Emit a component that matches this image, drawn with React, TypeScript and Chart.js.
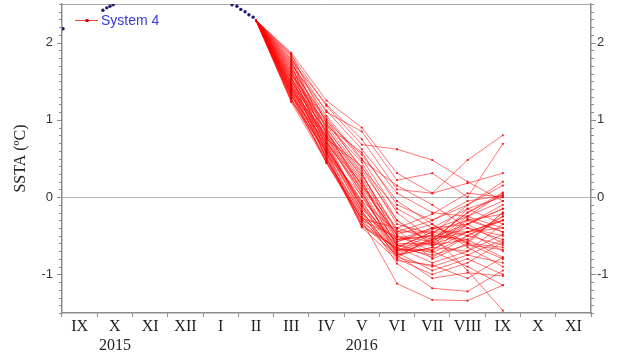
import React, { useEffect, useRef } from 'react';
import { Chart, registerables } from 'chart.js';

Chart.register(...registerables);

// Month categories (Sept 2015 .. Nov 2016)
const MONTHS = ['IX', 'X', 'XI', 'XII', 'I', 'II', 'III', 'IV', 'V', 'VI', 'VII', 'VIII', 'IX', 'X', 'XI'];
const YEARS: (string | null)[] = [null, '2015', null, null, null, null, null, null, '2016', null, null, null, null, null, null];
const Y_MIN = -1.5;
const Y_MAX = 2.5;
const Y_LABELS = [-1, 0, 1, 2];

// Observed SSTA (dots), x in months since start of Sept 2015
const OBS_X = [0.03, 1.16, 1.27, 1.36, 1.45, 4.82, 4.96, 5.07, 5.19, 5.3, 5.42];
const OBS_Y = [2.18, 2.42, 2.45, 2.47, 2.49, 2.49, 2.47, 2.43, 2.4, 2.36, 2.33];

// Forecast start (month index of II 2016) and value
const FC_START_MONTH = 5;
const FC_START_VALUE = 2.29;
// Forecast target month indices: III .. IX 2016
const FC_MONTHS = [6, 7, 8, 9, 10, 11, 12];

// System 4 ensemble members: [III, IV, V, VI, VII, VIII, IX]
const M01 = [1.87, 1.25, 0.9, 0.31, 0.05, 0.18, 0.31];
const M02 = [1.85, 0.95, 0.45, -0.3, -0.62, -0.45, -0.3];
const M03 = [1.84, 1.18, 0.68, 0.62, 0.48, 0.2, -0.05];
const M04 = [1.82, 0.8, 0.2, -0.55, -0.5, -0.55, -0.25];
const M05 = [1.8, 1.1, 0.85, 0.22, 0.31, 0.0, 0.69];
const M06 = [1.78, 0.7, 0.1, -0.62, -0.72, -0.5, -0.3];
const M07 = [1.77, 1.2, 0.75, 0.1, 0.05, 0.48, 0.8];
const M08 = [1.75, 0.88, 0.3, -0.45, -0.45, -0.3, -0.22];
const M09 = [1.74, 1.05, 0.5, -0.2, -0.55, -0.2, 0.06];
const M10 = [1.72, 0.62, -0.05, -0.72, -0.95, -0.8, -1.0];
const M11 = [1.71, 1.12, 0.62, 0.05, -0.2, -0.25, 0.05];
const M12 = [1.69, 0.75, 0.4, -0.35, -0.48, -0.1, 0.2];
const M13 = [1.68, 0.98, 0.55, -0.05, -0.35, -0.6, -0.8];
const M14 = [1.66, 0.55, 0.02, -0.68, -0.7, -0.35, -0.15];
const M15 = [1.65, 1.02, 0.48, 0.15, -0.1, -0.4, -0.55];
const M16 = [1.63, 0.84, 0.15, -0.4, -0.22, 0.05, 0.0];
const M17 = [1.62, 0.92, 0.58, -0.1, -0.3, -0.05, 0.02];
const M18 = [1.61, 0.66, -0.12, -0.75, -0.65, -0.7, -0.48];
const M19 = [1.59, 0.9, 0.25, -0.5, -0.58, -0.25, -0.4];
const M20 = [1.58, 1.0, 0.35, -0.3, -0.6, -0.35, -0.6];
const M21 = [1.57, 0.48, -0.2, -0.86, -1.18, -1.22, -0.95];
const M22 = [1.55, 0.82, 0.28, -0.42, -0.8, -0.6, -0.2];
const M23 = [1.54, 0.72, 0.05, -0.6, -0.6, -0.15, -0.35];
const M24 = [1.53, 0.96, 0.38, -0.15, -0.4, -0.5, -0.62];
const M25 = [1.52, 0.6, -0.18, -0.78, -0.9, -0.75, -0.55];
const M26 = [1.5, 0.85, 0.22, -0.65, -0.45, -0.45, -0.7];
const M27 = [1.49, 0.78, 0.12, -0.48, -0.35, -0.65, -0.9];
const M28 = [1.48, 0.93, 0.32, -0.55, -0.5, -0.95, -1.47];
const M29 = [1.47, 0.58, -0.25, -0.7, -0.55, -0.2, 0.03];
const M30 = [1.46, 0.7, 0.18, -0.58, -0.42, -0.25, -0.05];
const M31 = [1.45, 0.87, 0.08, -0.75, -0.65, -0.3, -0.45];
const M32 = [1.44, 0.5, -0.3, -1.12, -1.33, -1.34, -1.14];
const M33 = [1.43, 0.76, 0.0, -0.62, -0.62, -0.55, -0.78];
const M34 = [1.42, 0.64, -0.08, -0.65, -0.85, -0.7, -0.35];
const M35 = [1.41, 0.8, 0.15, -0.5, -0.7, -0.9, -1.14];
const M36 = [1.4, 0.52, -0.35, -0.75, -0.55, -0.4, -0.5];
const M37 = [1.39, 0.68, -0.1, -0.72, -0.58, -0.75, -0.85];
const M38 = [1.38, 0.78, 0.05, -0.7, -0.48, -0.6, -0.65];
const M39 = [1.37, 0.45, -0.28, -0.8, -1.0, -0.85, -0.58];
const M40 = [1.36, 0.74, -0.15, -0.62, -0.78, -0.5, -0.25];
const M41 = [1.35, 0.57, -0.39, -0.82, -0.88, -1.05, -0.78];
const M42 = [1.34, 0.65, -0.22, -0.55, -0.4, -0.15, 0.0];
const M43 = [1.33, 0.44, -0.32, -0.68, -0.68, -0.45, -0.4];
const M44 = [1.32, 0.62, -0.05, -0.45, -0.3, -0.1, 0.15];
const M45 = [1.31, 0.54, -0.36, -0.66, -0.75, -0.62, -0.68];
const M46 = [1.3, 0.7, -0.18, -0.78, -0.52, -0.35, -0.15];
const M47 = [1.28, 0.47, -0.25, -0.75, -1.05, -0.98, -1.02];
const M48 = [1.27, 0.58, -0.3, -0.52, -0.62, -0.28, -0.45];
const M49 = [1.26, 0.5, -0.38, -0.66, -0.45, -0.58, -0.2];
const M50 = [1.24, 0.6, -0.12, -0.58, -0.4, -0.35, -0.1];
const M51 = [1.23, 0.45, -0.28, -0.4, -0.55, -0.45, -0.3];

const MEMBERS = [
  M01, M02, M03, M04, M05, M06, M07, M08, M09, M10, M11, M12, M13, M14, M15, M16, M17,
  M18, M19, M20, M21, M22, M23, M24, M25, M26, M27, M28, M29, M30, M31, M32, M33, M34,
  M35, M36, M37, M38, M39, M40, M41, M42, M43, M44, M45, M46, M47, M48, M49, M50, M51,
];

const SERIF = "'Liberation Serif', 'Times New Roman', serif";
const SANS = "'Liberation Sans', Arial, sans-serif";
const AXIS_GRAY = '#8c8c8c';
const RED_LINE = 'rgba(255, 0, 0, 0.55)';
const RED_POINT = 'rgba(235, 0, 0, 0.9)';

const framePlugin = {
  id: 'frame',
  beforeDatasetsDraw(chart: any) {
    const { ctx, chartArea } = chart;
    const { left, right, top } = chartArea;
    const ys = chart.scales.y;
    ctx.save();
    ctx.strokeStyle = '#b4b4b4';
    ctx.lineWidth = 1;
    const y0 = Math.round(ys.getPixelForValue(0)) + 0.5;
    ctx.beginPath();
    ctx.moveTo(left, y0);
    ctx.lineTo(right, y0);
    ctx.stroke();
    ctx.strokeStyle = '#a8a8a8';
    ctx.beginPath();
    ctx.moveTo(left, top + 0.5);
    ctx.lineTo(right, top + 0.5);
    ctx.stroke();
    ctx.strokeStyle = AXIS_GRAY;
    for (let k = Math.round(Y_MIN * 10); k <= Math.round(Y_MAX * 10); k++) {
      const py = Math.round(ys.getPixelForValue(k / 10)) + 0.5;
      const len = k % 10 === 0 ? 5 : 3;
      ctx.beginPath();
      ctx.moveTo(left - len, py);
      ctx.lineTo(left, py);
      ctx.moveTo(right, py);
      ctx.lineTo(right + len, py);
      ctx.stroke();
    }
    ctx.restore();
  },
  afterDraw(chart: any) {
    const { ctx, chartArea } = chart;
    const x0 = chartArea.left + 13;
    const yL = chartArea.top + 16;
    ctx.save();
    ctx.strokeStyle = 'rgba(255,0,0,0.75)';
    ctx.lineWidth = 1;
    ctx.beginPath();
    ctx.moveTo(x0, yL + 0.5);
    ctx.lineTo(x0 + 23, yL + 0.5);
    ctx.stroke();
    ctx.fillStyle = '#e00000';
    ctx.fillRect(x0 + 10.5, yL - 1, 3, 3);
    ctx.fillStyle = '#3a3ad8';
    ctx.font = `14px ${SANS}`;
    ctx.textBaseline = 'middle';
    ctx.textAlign = 'left';
    ctx.fillText('System 4', x0 + 26, yL + 1);
    ctx.restore();
  },
};

const setYTicks = (s: any) => {
  s.ticks = Y_LABELS.map((v) => ({ value: v }));
};

export default function App() {
  const ref = useRef<HTMLCanvasElement | null>(null);

  useEffect(() => {
    if (!ref.current) return;
    const datasets: any[] = MEMBERS.map((m, i) => ({
      label: i === 0 ? 'System 4' : `m${i + 1}`,
      xAxisID: 'x',
      yAxisID: 'y',
      data: [
        { x: FC_START_MONTH + 0.5, y: FC_START_VALUE },
        ...m.map((v, j) => ({ x: FC_MONTHS[j] + 0.5, y: v })),
      ],
      borderColor: RED_LINE,
      borderWidth: 1,
      pointStyle: 'rect',
      pointRadius: 1.3,
      pointBackgroundColor: RED_POINT,
      pointBorderColor: RED_POINT,
      pointBorderWidth: 0,
      showLine: true,
      tension: 0,
      fill: false,
    }));
    datasets.push({
      label: 'obs',
      xAxisID: 'x',
      yAxisID: 'y',
      data: OBS_X.map((x, i) => ({ x, y: OBS_Y[i] })),
      showLine: false,
      pointRadius: 1.7,
      pointBackgroundColor: '#1e1e70',
      pointBorderColor: '#1e1e70',
      pointBorderWidth: 0,
    });

    const chart = new Chart(ref.current, {
      type: 'line',
      data: { datasets },
      options: {
        animation: false,
        responsive: false,
        devicePixelRatio: 1,
        layout: { padding: { top: 4, right: 0, bottom: 0, left: 0 } },
        plugins: { legend: { display: false }, tooltip: { enabled: false } },
        scales: {
          x: {
            type: 'linear',
            display: false,
            min: 0,
            max: MONTHS.length,
          },
          xc: {
            type: 'category',
            position: 'bottom',
            labels: MONTHS.map((m, i) => (YEARS[i] ? [m, YEARS[i] as string] : m)) as any,
            offset: true,
            grid: {
              display: true,
              offset: true,
              drawOnChartArea: false,
              drawTicks: true,
              tickLength: 4,
              tickColor: AXIS_GRAY,
              color: AXIS_GRAY,
            },
            border: { display: true, color: AXIS_GRAY, width: 1.5 },
            ticks: {
              autoSkip: false,
              maxRotation: 0,
              padding: 1,
              color: '#222',
              font: { family: SERIF, size: 16, lineHeight: 1.15 },
            },
            afterFit: (s: any) => {
              s.height = 47;
              s.paddingLeft = 0;
              s.paddingRight = 0;
            },
          },
          y: {
            type: 'linear',
            position: 'left',
            min: Y_MIN,
            max: Y_MAX,
            grid: { display: true, drawOnChartArea: false, drawTicks: false },
            border: { display: true, color: AXIS_GRAY, width: 1.5 },
            afterBuildTicks: setYTicks,
            ticks: {
              padding: 9,
              color: '#333',
              font: { family: SANS, size: 13 },
              callback: (v: any) => String(v),
            },
            title: {
              display: true,
              text: 'SSTA (ºC)',
              color: '#222',
              font: { family: SERIF, size: 16, lineHeight: 1.2 },
              padding: { top: 11, bottom: 0 },
            },
            afterFit: (s: any) => {
              s.width = 62;
              s.paddingTop = 0;
              s.paddingBottom = 0;
            },
          },
          y2: {
            type: 'linear',
            position: 'right',
            min: Y_MIN,
            max: Y_MAX,
            grid: { display: true, drawOnChartArea: false, drawTicks: false },
            border: { display: true, color: AXIS_GRAY, width: 1.5 },
            afterBuildTicks: setYTicks,
            ticks: {
              padding: 6,
              color: '#333',
              font: { family: SANS, size: 13 },
              callback: (v: any) => String(v),
            },
            afterFit: (s: any) => {
              s.width = 28;
              s.paddingTop = 0;
              s.paddingBottom = 0;
            },
          },
        },
      },
      plugins: [framePlugin],
    });
    return () => chart.destroy();
  }, []);

  return (
    <div style={{ position: 'absolute', left: 0, top: 0, width: 619, height: 360, background: '#fff' }}>
      <canvas ref={ref} width={619} height={360} style={{ display: 'block' }} />
    </div>
  );
}
